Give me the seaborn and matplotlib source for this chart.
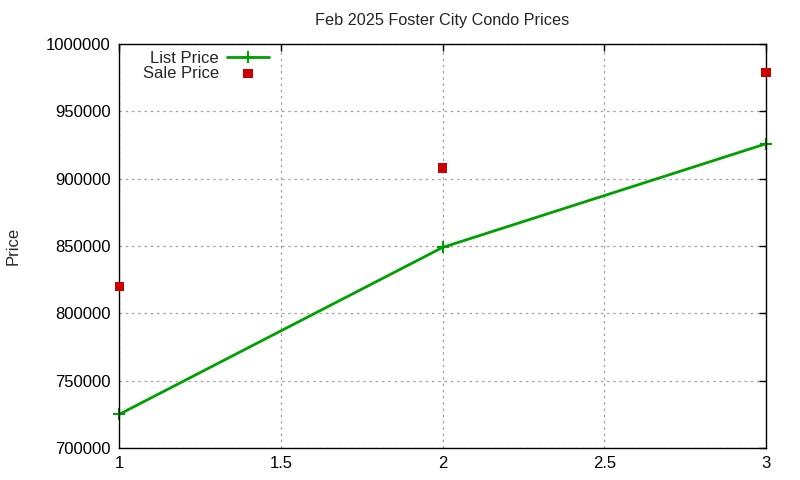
import pandas as pd
import matplotlib
matplotlib.use('Agg')
import matplotlib.pyplot as plt
import seaborn as sns

# Data
positions = [1, 2, 3]
list_price = [725000, 849000, 926000]
sale_price = [820000, 908000, 979000]

df = pd.DataFrame({'x': positions, 'List Price': list_price, 'Sale Price': sale_price})

sns.set_style('white')
plt.rcParams['font.family'] = ['Liberation Sans', 'DejaVu Sans']
plt.rcParams['font.size'] = 12

fig = plt.figure(figsize=(8, 4.8), dpi=100)
ax = fig.add_axes([0.149, 0.0667, 0.8085, 0.8413])

sns.lineplot(data=df, x='x', y='List Price', ax=ax, color='#00a000',
             linewidth=2, marker='+', markersize=9, markeredgewidth=1.5,
             markeredgecolor='#00a000', label='List Price', clip_on=False)
sns.scatterplot(data=df, x='x', y='Sale Price', ax=ax, color='#cc0000',
                marker='s', s=45, edgecolor='none', label='Sale Price',
                zorder=3, clip_on=False)

ax.set_xlim(1, 3)
ax.set_ylim(700000, 1000000)
ax.set_xticks([1, 1.5, 2, 2.5, 3])
ax.set_xticklabels(['1', '1.5', '2', '2.5', '3'])
ax.set_yticks(range(700000, 1000001, 50000))
ax.set_yticklabels([str(v) for v in range(700000, 1000001, 50000)])

ax.grid(True, linestyle=(0, (2, 3)), color='#a0a0a0', linewidth=0.9)
ax.tick_params(direction='in', length=5, width=1, top=True, right=True,
               labelsize=12, colors='black', pad=6)
for sp in ax.spines.values():
    sp.set_color('black')
    sp.set_linewidth(1)

ax.set_xlabel('')
ax.set_ylabel('Price', fontsize=12, labelpad=18)
ax.set_title('Feb 2025 Foster City Condo Prices', fontsize=11.7, pad=14)

ax.legend(loc='upper left', markerfirst=False, frameon=False, fontsize=12,
          handlelength=2.5, handletextpad=0.5, borderaxespad=0.0,
          labelspacing=0.0, bbox_to_anchor=(0.026, 1.0))

fig.savefig('out.png', dpi=100)
